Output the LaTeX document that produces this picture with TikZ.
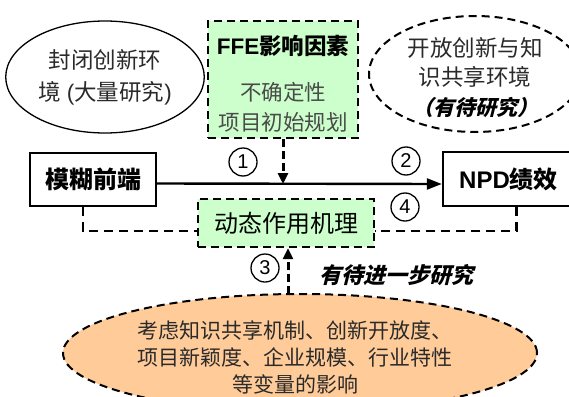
\documentclass[tikz,border=0pt]{standalone}
\usepackage{fontspec}
\setmainfont{Liberation Sans}
\newfontfamily\cjk{Noto Sans CJK SC}
\newfontfamily\cjksl{Noto Sans CJK SC}[FakeSlant=0.25]
\usetikzlibrary{arrows.meta,shapes.geometric}
\definecolor{boxgreen}{HTML}{CCFFCC}
\definecolor{ovalorange}{HTML}{FFCC99}
\definecolor{txtgray}{HTML}{2A2A2A}
\definecolor{subgray}{HTML}{4A4A4A}
\tikzset{
  dashbox/.style={draw, line width=2.4pt, dash pattern=on 8pt off 5pt},
  solidbox/.style={draw, line width=2.4pt, rectangle},
  numcirc/.style={circle, draw, line width=1.3pt, minimum size=28pt, inner sep=0pt, font=\fontsize{20}{20}\selectfont},
  dasharrow/.style={line width=3pt, dash pattern=on 8pt off 4pt, -{Triangle[length=11pt,width=10pt]}},
  dashline/.style={line width=2.4pt, dash pattern=on 9pt off 6pt},
  mainarrow/.style={line width=2.4pt, -{Triangle[length=15pt,width=11pt]}}
}
\begin{document}
\begin{tikzpicture}[x=1pt,y=-1pt]
\clip (0,0) rectangle (569,396);
\fill[white] (0,0) rectangle (569,396);

% left ellipse
\node[ellipse, draw, line width=1.3pt, minimum width=182pt, minimum height=112pt, align=center, text=txtgray,
  font=\fontsize{22.5}{32}\selectfont] (closed) at (105,77) {\cjk 封闭创新环\\{\cjk 境} ({\cjk 大量研究})};

% FFE box
\node[dashbox, fill=boxgreen, minimum width=150pt, minimum height=117pt] (ffe) at (283,79.5) {};
\node[font=\fontsize{22.5}{26}\selectfont\bfseries] (ffet) at (283,46) {FFE{\cjk 影响因素}};
\node[align=center, text=subgray, font=\fontsize{21.5}{30}\selectfont\cjk] (ffes) at (283,107) {不确定性\\项目初始规划};

% right ellipse
\node[ellipse, dashbox, line width=2pt, minimum width=212pt, minimum height=116pt] (open) at (475,74) {};
\node[align=center, text=txtgray, font=\fontsize{22.5}{29}\selectfont\cjk] (opent) at (475,62) {开放创新与知\\识共享环境};
\node[text=black, font=\fontsize{21}{24}\selectfont\cjksl\bfseries] (openr) at (475,107) {（有待研究）};

% front end box
\node[solidbox, minimum width=126pt, minimum height=53pt, font=\fontsize{24}{28}\selectfont\cjk\bfseries] (front) at (93,179.5) {模糊前端};

% NPD box
\node[solidbox, minimum width=131pt, minimum height=54pt, font=\fontsize{24}{28}\selectfont\bfseries] (npd) at (508.5,179) {NPD{\cjk 绩效}};

% dynamic box
\node[dashbox, fill=boxgreen, minimum width=176pt, minimum height=48pt, font=\fontsize{24}{28}\selectfont\cjk] (dyn) at (286,223) {动态作用机理};

% orange ellipse
\node[ellipse, dashbox, line width=2pt, fill=ovalorange, minimum width=474pt, minimum height=118pt] (moder) at (300,353) {};
\node[align=center, text=txtgray, font=\fontsize{21}{27}\selectfont\cjk] (modert) at (295,357) {考虑知识共享机制、创新开放度、\\项目新颖度、企业规模、行业特性\\等变量的影响};

% connectors
\coordinate (m1) at (283,184);
\coordinate (c3) at (288,294);
\draw[mainarrow] ([yshift=-4pt]front.east) -- ([yshift=-5pt]npd.west);
\draw[dasharrow] (ffe.south) -- (m1);
\draw[dasharrow] (c3) -- (c3 |- dyn.south);
\draw[dashline] ([xshift=-10pt]front.south) |- ([yshift=-8pt]dyn.west);
\draw[dashline] ([xshift=8pt]npd.south) |- ([yshift=-8pt]dyn.east);

% labels
\node[numcirc] (n1) at (243,162) {1};
\node[numcirc] (n2) at (406,161) {2};
\node[numcirc] (n3) at (265,268) {3};
\node[numcirc] (n4) at (405,207) {4};
\node[font=\fontsize{22}{24}\selectfont\cjksl\bfseries] (further) at (396,275) {有待进一步研究};
\end{tikzpicture}
\end{document}
